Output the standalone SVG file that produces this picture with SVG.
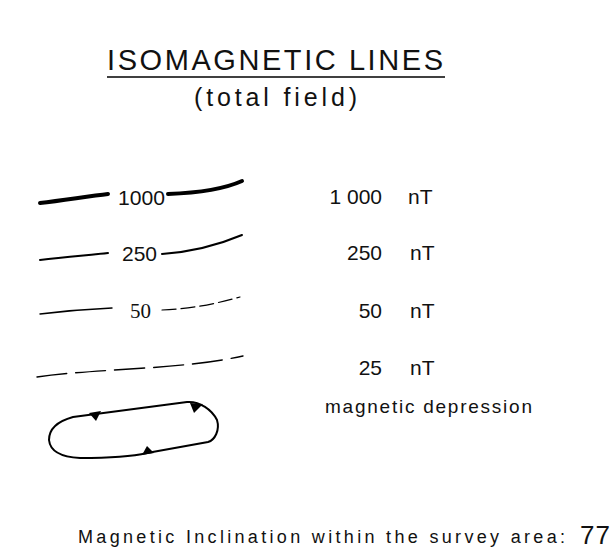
<svg xmlns="http://www.w3.org/2000/svg" width="612" height="555" viewBox="0 0 612 555">
<style>
.t{font-family:"Liberation Sans",Arial,sans-serif;fill:#111}
.lbl{font-family:"Liberation Sans",Arial,sans-serif;font-size:21px;fill:#111}
.ln{fill:none;stroke:#000;stroke-linecap:round}
</style>
<rect width="612" height="555" fill="#fff"/>
<g id="title">
<text class="t" x="107" y="70" font-size="29" textLength="336" lengthAdjust="spacing">ISOMAGNETIC LINES</text>
<line x1="107" y1="77" x2="445" y2="77" stroke="#000" stroke-width="1.3"/>
<text class="t" x="194" y="106" font-size="25" textLength="163" lengthAdjust="spacing">(total field)</text>
</g>
<g id="connectors">
<path class="ln" stroke-width="4" d="M40,203 C65,200 90,196 108,194"/>
<path class="ln" stroke-width="4" d="M168,194 C195,193 222,190 242,181"/>
<path class="ln" stroke-width="2" d="M40,260 C65,257 90,255 108,253"/>
<path class="ln" stroke-width="2" d="M162,254 C190,252 216,246 242,235"/>
<path class="ln" stroke-width="1.4" d="M40,314 C65,311 90,309 112,308"/>
<path class="ln" stroke-width="1.2" stroke-dasharray="14 5" d="M162,310 C190,309 215,304 240,297"/>
<path class="ln" stroke-width="1.4" stroke-dasharray="30 9" d="M37,377 C100,368 180,370 243,356"/>
</g>
<g id="row-1000">
<text class="lbl" x="118" y="205" textLength="47" lengthAdjust="spacingAndGlyphs">1000</text>
<text class="lbl" x="382" y="204" text-anchor="end">1 000</text>
<text class="lbl" x="408" y="204">nT</text>
</g>
<g id="row-250">
<text class="lbl" x="122" y="261">250</text>
<text class="lbl" x="382" y="260" text-anchor="end">250</text>
<text class="lbl" x="410" y="260">nT</text>
</g>
<g id="row-50">
<text x="130" y="318" font-family="Liberation Serif,serif" font-size="21" fill="#111">50</text>
<text class="lbl" x="382" y="318" text-anchor="end">50</text>
<text class="lbl" x="410" y="318">nT</text>
</g>
<g id="row-25">
<text class="lbl" x="382" y="375" text-anchor="end">25</text>
<text class="lbl" x="410" y="375">nT</text>
</g>
<g id="depression">
<path class="ln" stroke-width="2" d="M73,417 L187,402 C200,401 212,410 217,420 C220,430 215,440 208,442 L147,453 C130,457 110,458 80,458 C60,457 50,450 49,440 C49,430 55,422 73,417 Z"/>
<path d="M89,413 L101,411 L96,421 Z" fill="#000"/>
<path d="M190,403 L203,404 L194,413 Z" fill="#000"/>
<path d="M142,455 L154,453 L147,446 Z" fill="#000"/>
<text class="t" x="325" y="413" font-size="19" textLength="207" lengthAdjust="spacing">magnetic depression</text>
</g>
<g id="inclination">
<text class="t" x="78" y="543" font-size="18" textLength="487" lengthAdjust="spacing">Magnetic Inclination within the survey area:</text>
<text class="t" x="580" y="544" font-size="26" textLength="30" lengthAdjust="spacing">77</text>
</g>
</svg>
